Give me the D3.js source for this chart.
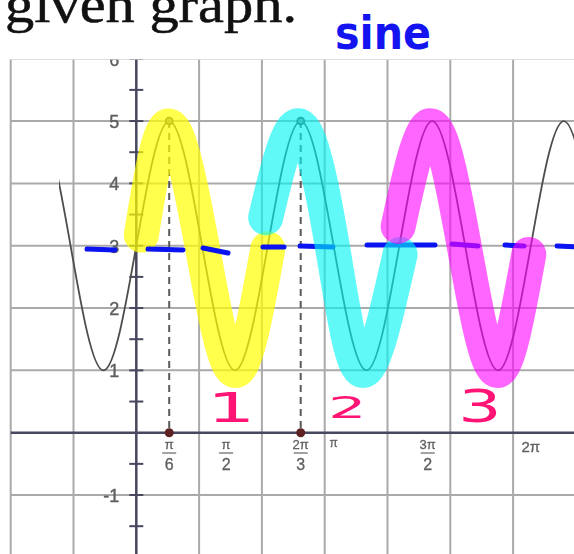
<!DOCTYPE html>
<html>
<head>
<meta charset="utf-8">
<script src="https://cdn.jsdelivr.net/npm/d3@7/dist/d3.min.js"></script>
<style>
  html, body { margin: 0; padding: 0; background: #fff; overflow: hidden; }
  svg { display: block; }
</style>
</head>
<body>
<svg id="chart" width="574" height="554"></svg>
<script>
// ---- data ---------------------------------------------------------------
// Key points of the plotted sinusoid: midline crossings and extrema
const curveX = [-2.094, -1.571, -1.047, -0.524, 0, 0.524, 1.047, 1.571, 2.094,
                2.618, 3.142, 3.665, 4.189, 4.712, 5.236, 5.760, 6.283, 6.807, 7.330];
const curveY = [3, 5, 3, 1, 3, 5, 3, 1, 3, 5, 3, 1, 3, 5, 3, 1, 3, 5, 3];
const curveStart = -1.23;          // left end of the drawn curve

// Grid and axes
const gridX = [-2, -1, 1, 2, 3, 4, 5, 6, 7];
const gridY = [-2, -1, 1, 2, 3, 4, 5, 6];
const yTickLabels = [-1, 1, 2, 3, 4, 5, 6];
const yTickMarks = [-1.5, -0.5, 0.5, 1.5, 2.5, 3.5, 4.5, 5.5];

// x tick labels (position, numerator, denominator)
const xTickPos = [0.524, 1.43, 2.618, 4.64];
const xTickNum = ["π", "π", "2π", "3π"];
const xTickDen = ["6", "2", "3", "2"];
const xPlainPos = [3.142, 6.283];
const xPlainText = ["π", "2π"];
const xPlainSize = [12, 15];

// Marked maxima with guide lines to the x-axis
const peakX = [0.524, 2.618];
const peakY = [5, 5];

// Highlighted periods
const yellowX = [0.08, 0.524, 1.047, 1.571, 2.094];
const yellowY = [3.17, 4.92, 3.0, 1.0, 2.95];
const cyanX = [2.06, 2.6, 3.12, 3.6, 4.2];
const cyanY = [3.45, 4.92, 3.0, 1.0, 2.86];
const magentaX = [4.17, 4.7, 5.22, 5.74, 6.25];
const magentaY = [3.31, 4.92, 3.0, 1.0, 2.86];

// Hand-drawn midline dashes: [x0, y0, x1, y1]
const midDashes = [
  [-0.785, 2.947, -0.339, 2.931],
  [0.186, 2.947, 0.744, 2.931],
  [1.062, 2.963, 1.460, 2.883],
  [2.017, 2.979, 2.352, 2.979],
  [2.607, 2.995, 3.132, 2.979],
  [3.674, 3.011, 4.756, 3.011],
  [5.027, 3.027, 5.441, 2.995],
  [5.871, 3.011, 6.174, 2.995],
  [6.699, 2.995, 7.070, 2.979]
];

// Period counters
const countText = ["1", "2", "3"];
const countX = [1.51, 3.36, 5.47];
const countY = [0.41, 0.41, 0.42];

// ---- scales -------------------------------------------------------------
const W = 574, H = 554;
const x = d3.scaleLinear().domain([0, 6]).range([136.3, 513.1]);
const y = d3.scaleLinear().domain([0, 5]).range([432.7, 121.05]);

const svg = d3.select("#chart");
const defs = svg.append("defs");

defs.append("filter").attr("id", "soft")
  .attr("x", -0.05).attr("y", -0.05).attr("width", 1.1).attr("height", 1.1)
  .append("feGaussianBlur").attr("stdDeviation", 0.6);

defs.append("clipPath").attr("id", "plotClip")
  .append("rect").attr("x", 9).attr("y", 59.5).attr("width", W - 9).attr("height", H - 59.5);

defs.append("clipPath").attr("id", "curveClip")
  .append("rect").attr("x", x(curveStart)).attr("y", 58)
  .attr("width", W - x(curveStart)).attr("height", H - 58);

svg.append("rect").attr("width", W).attr("height", H).attr("fill", "#fff");

// ---- heading ------------------------------------------------------------
svg.append("text")
  .attr("x", 5).attr("y", 22)
  .attr("font-family", "Liberation Serif, DejaVu Serif, serif")
  .attr("font-size", 53)
  .attr("textLength", 292).attr("lengthAdjust", "spacingAndGlyphs")
  .attr("fill", "#111").attr("stroke", "#111").attr("stroke-width", 0.5)
  .text("given graph.");

// ---- plot (screenshot of the graph) -------------------------------------
const plot = svg.append("g").attr("clip-path", "url(#plotClip)")
  .append("g").attr("filter", "url(#soft)");

const gridColor = "#aaaaaa";
plot.append("g").selectAll("line").data(gridX).join("line")
  .attr("x1", d => x(d)).attr("x2", d => x(d))
  .attr("y1", 0).attr("y2", H)
  .attr("stroke", gridColor).attr("stroke-width", 2);
plot.append("g").selectAll("line").data(gridY).join("line")
  .attr("x1", x(-2)).attr("x2", W)
  .attr("y1", d => y(d)).attr("y2", d => y(d))
  .attr("stroke", gridColor).attr("stroke-width", 2);

const axisColor = "#46465e";
// x-axis and y-axis
plot.append("line").attr("x1", x(-2)).attr("x2", W)
  .attr("y1", y(0)).attr("y2", y(0))
  .attr("stroke", axisColor).attr("stroke-width", 2.5);
plot.append("line").attr("x1", x(0)).attr("x2", x(0))
  .attr("y1", 0).attr("y2", H)
  .attr("stroke", axisColor).attr("stroke-width", 2.5);

// y-axis tick marks
plot.append("g").selectAll("line").data(yTickMarks.concat(yTickLabels)).join("line")
  .attr("x1", x(0) - 7).attr("x2", x(0) + 7)
  .attr("y1", d => y(d)).attr("y2", d => y(d))
  .attr("stroke", axisColor).attr("stroke-width", 2);

// y-axis labels
plot.append("g").selectAll("text").data(yTickLabels).join("text")
  .attr("x", x(0) - 17).attr("y", d => y(d))
  .attr("dy", "0.38em")
  .attr("text-anchor", "end")
  .attr("font-family", "Liberation Sans, Arial, sans-serif")
  .attr("font-size", 18)
  .attr("fill", "#5e5e5e").attr("stroke", "#5e5e5e").attr("stroke-width", 0.4)
  .text(d => d < 0 ? "-" + Math.abs(d) : d);

// x-axis fraction labels
const fracFont = "Liberation Sans, Arial, sans-serif";
const xLab = plot.append("g").attr("fill", "#606060").attr("font-family", fracFont)
  .attr("stroke", "#606060").attr("stroke-width", 0.3);
xTickPos.forEach((p, i) => {
  const cx = x(p);
  xLab.append("text").attr("x", cx).attr("y", 449)
    .attr("text-anchor", "middle").attr("font-size", 13).text(xTickNum[i]);
  xLab.append("line").attr("x1", cx - 7).attr("x2", cx + 7)
    .attr("y1", 453).attr("y2", 453)
    .attr("stroke", "#707070").attr("stroke-width", 1.3);
  xLab.append("text").attr("x", cx).attr("y", 470)
    .attr("text-anchor", "middle").attr("font-size", 16).text(xTickDen[i]);
});
xPlainPos.forEach((p, i) => {
  xLab.append("text").attr("x", x(p)).attr("y", i === 0 ? 447 : 452)
    .attr("text-anchor", "middle").attr("font-size", xPlainSize[i]).text(xPlainText[i]);
});

// guide lines from the marked maxima to the x-axis
plot.append("g").selectAll("line").data(peakX).join("line")
  .attr("x1", d => x(d)).attr("x2", d => x(d))
  .attr("y1", (d, i) => y(peakY[i])).attr("y2", y(0))
  .attr("stroke", "#5a5a5a").attr("stroke-width", 2)
  .attr("stroke-dasharray", "7,5");

// the sinusoid
const curvePts = curveX.map((v, i) => [v, curveY[i]]);
const lineGen = d3.line().x(d => x(d[0])).y(d => y(d[1])).curve(d3.curveNatural);
plot.append("path")
  .attr("clip-path", "url(#curveClip)")
  .attr("d", lineGen(curvePts))
  .attr("fill", "none").attr("stroke", "#4e4e4e").attr("stroke-width", 1.8);

// points on the maxima and on the axis
plot.append("g").selectAll("circle").data(peakX).join("circle")
  .attr("cx", d => x(d)).attr("cy", (d, i) => y(peakY[i])).attr("r", 3.5)
  .attr("fill", "#8a8a8a").attr("stroke", "#3a3a3a").attr("stroke-width", 1.5);
plot.append("g").selectAll("circle").data(peakX).join("circle")
  .attr("cx", d => x(d)).attr("cy", y(0)).attr("r", 4.5)
  .attr("fill", "#5e2222");

// ---- annotations --------------------------------------------------------
const markGen = d3.line().x(d => x(d[0])).y(d => y(d[1])).curve(d3.curveNatural);
function highlight(xs, ys, color, alpha) {
  svg.append("path")
    .attr("d", markGen(xs.map((v, i) => [v, ys[i]])))
    .attr("fill", "none")
    .attr("stroke", color).attr("stroke-opacity", alpha)
    .attr("stroke-width", 35)
    .attr("stroke-linecap", "round").attr("stroke-linejoin", "round");
}

highlight(yellowX, yellowY, "#ffff00", 0.7);

// midline dashes
svg.append("g").selectAll("line").data(midDashes).join("line")
  .attr("x1", d => x(d[0])).attr("y1", d => y(d[1]))
  .attr("x2", d => x(d[2])).attr("y2", d => y(d[3]))
  .attr("stroke", "#0a14f0").attr("stroke-width", 5)
  .attr("stroke-linecap", "round");

highlight(cyanX, cyanY, "#00f4f4", 0.62);
highlight(magentaX, magentaY, "#ff00ff", 0.6);

// period counters
const countScale = [[1.9, 1, 40], [2.0, 1, 30], [1.55, 1, 44]];
svg.append("g").selectAll("text").data(countText).join("text")
  .attr("transform", (d, i) =>
    `translate(${x(countX[i])},${y(countY[i])}) scale(${countScale[i][0]},${countScale[i][1]})`)
  .attr("text-anchor", "middle")
  .attr("dy", "0.36em")
  .attr("font-family", "DejaVu Sans, sans-serif")
  .attr("font-size", (d, i) => countScale[i][2])
  .attr("fill", "#ff1475")
  .text(d => d);

// handwritten label
svg.append("text")
  .attr("x", 335).attr("y", 49)
  .attr("font-family", "DejaVu Sans, sans-serif")
  .attr("font-weight", "bold")
  .attr("font-size", 46)
  .attr("textLength", 96).attr("lengthAdjust", "spacingAndGlyphs")
  .attr("fill", "#1414f0")
  .text("sine");
</script>
</body>
</html>
